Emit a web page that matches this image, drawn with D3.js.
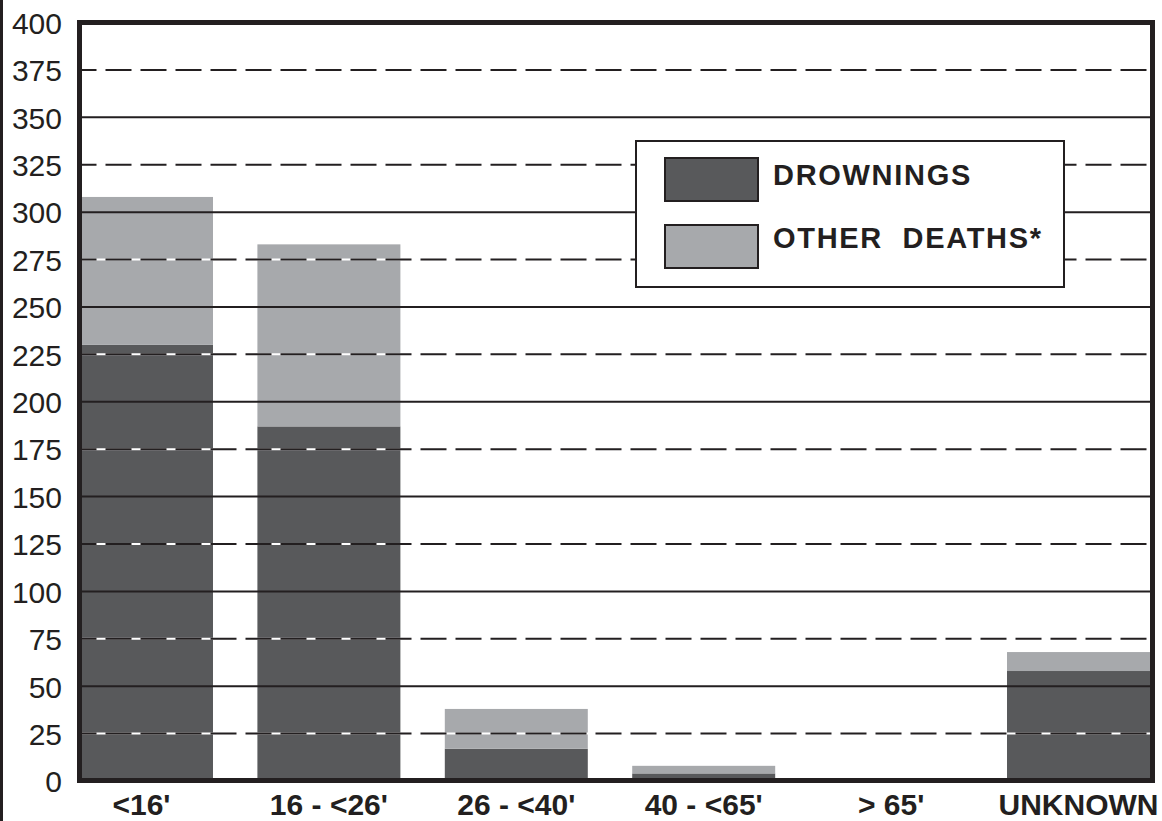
<!DOCTYPE html>
<html>
<head>
<meta charset="utf-8">
<script src="https://cdn.jsdelivr.net/npm/d3@7"></script>
<style>
  html, body { margin: 0; padding: 0; background: #fff; }
  svg { display: block; }
  text { font-family: "Liberation Sans", Arial, Helvetica, sans-serif; fill: #231f20; }
</style>
</head>
<body>
<svg id="chart" width="1162" height="821"></svg>
<script>
// ---- data ----
const categories = ["<16'", "16 - <26'", "26 - <40'", "40 - <65'", "> 65'", "UNKNOWN"];
const drownings  = [230, 187, 17, 4, 0, 58];
const otherDeaths = [78, 96, 21, 4, 0, 10];
const yTicks = [0, 25, 50, 75, 100, 125, 150, 175, 200, 225, 250, 275, 300, 325, 350, 375, 400];
const seriesNames = ["DROWNINGS", "OTHER  DEATHS*"];

(function () {
// ---- layout ----
const W = 1162, H = 821;
const pL = 79.5, pR = 1152.5, pT = 22.5, pB = 780.5;
const DARK = "#58595b", LIGHT = "#a7a9ac", INK = "#231f20";

const svg = d3.select("#chart");
svg.append("rect").attr("width", W).attr("height", H).attr("fill", "#fff");

const y = d3.scaleLinear().domain([0, 400]).range([781, 22.5]);
const x = d3.scaleBand().domain(categories).range([70, 1150]).paddingInner(0.237).paddingOuter(0);

svg.append("clipPath").attr("id", "plotclip")
  .append("rect").attr("x", pL).attr("y", pT).attr("width", pR - pL).attr("height", pB - pT);

const rows = categories.map((c, i) => ({ cat: c, drown: drownings[i], other: otherDeaths[i] }));
const stack = d3.stack().keys(["drown", "other"])(rows);
const colors = [DARK, LIGHT];

const barsG = svg.append("g").attr("clip-path", "url(#plotclip)");
stack.forEach((layer, li) => {
  barsG.selectAll(null).data(layer).enter().append("rect")
    .attr("x", d => x(d.data.cat))
    .attr("width", x.bandwidth())
    .attr("y", d => y(d[1]))
    .attr("height", d => Math.max(0, y(d[0]) - y(d[1])))
    .attr("fill", colors[li]);
});

// ---- gridlines ----
const gridG = svg.append("g");
yTicks.filter(t => t > 0 && t < 400).forEach(t => {
  const dashed = (t / 25) % 2 === 1;
  const yy = y(t);
  if (dashed) {
    gridG.append("line").attr("x1", pL).attr("x2", pR).attr("y1", yy).attr("y2", yy)
      .attr("stroke", "#fff").attr("stroke-width", 2);
    gridG.append("line").attr("x1", pL).attr("x2", pR).attr("y1", yy).attr("y2", yy)
      .attr("stroke", INK).attr("stroke-width", 2)
      .attr("stroke-dasharray", "26,9").attr("stroke-dashoffset", 9);
  } else {
    gridG.append("line").attr("x1", pL).attr("x2", pR).attr("y1", yy).attr("y2", yy)
      .attr("stroke", INK).attr("stroke-width", 2);
  }
});

// ---- legend ----
const lg = svg.append("g");
lg.append("rect").attr("x", 636).attr("y", 141).attr("width", 428).attr("height", 146)
  .attr("fill", "#fff").attr("stroke", INK).attr("stroke-width", 2);
seriesNames.forEach((name, i) => {
  lg.append("rect").attr("x", 665).attr("y", 158 + i * 67).attr("width", 93).attr("height", 43)
    .attr("fill", colors[i]).attr("stroke", INK).attr("stroke-width", 2);
  lg.append("text").attr("x", 773).attr("y", 185 + i * 63)
    .attr("font-size", 29).attr("font-weight", "bold")
    .style("letter-spacing", "1.7px").style("white-space", "pre")
    .text(name);
});

// ---- frame ----
svg.append("rect").attr("x", pL).attr("y", pT).attr("width", pR - pL).attr("height", pB - pT)
  .attr("fill", "none").attr("stroke", INK).attr("stroke-width", 5);
svg.append("line").attr("x1", 1.5).attr("x2", 1.5).attr("y1", 0).attr("y2", H)
  .attr("stroke", INK).attr("stroke-width", 3);

// ---- y axis labels ----
const yAxis = d3.axisLeft(y).tickValues(yTicks).tickSize(0).tickPadding(0).tickFormat(d3.format("d"));
const ya = svg.append("g").attr("transform", "translate(62,0)").call(yAxis);
ya.select(".domain").remove();
ya.selectAll("text").attr("font-size", 30).attr("font-family", "'Liberation Sans', Arial, sans-serif")
  .attr("fill", INK).attr("dy", "0.36em");

// ---- x axis labels ----
const xAxis = d3.axisBottom(x).tickSize(0).tickPadding(0);
const xa = svg.append("g").attr("transform", "translate(0,815)").call(xAxis);
xa.select(".domain").remove();
xa.selectAll("text").attr("font-size", 30).attr("font-weight", "bold")
  .attr("font-family", "'Liberation Sans', Arial, sans-serif").attr("fill", INK)
  .attr("dy", 0).attr("y", 0);
})();
</script>
</body>
</html>
